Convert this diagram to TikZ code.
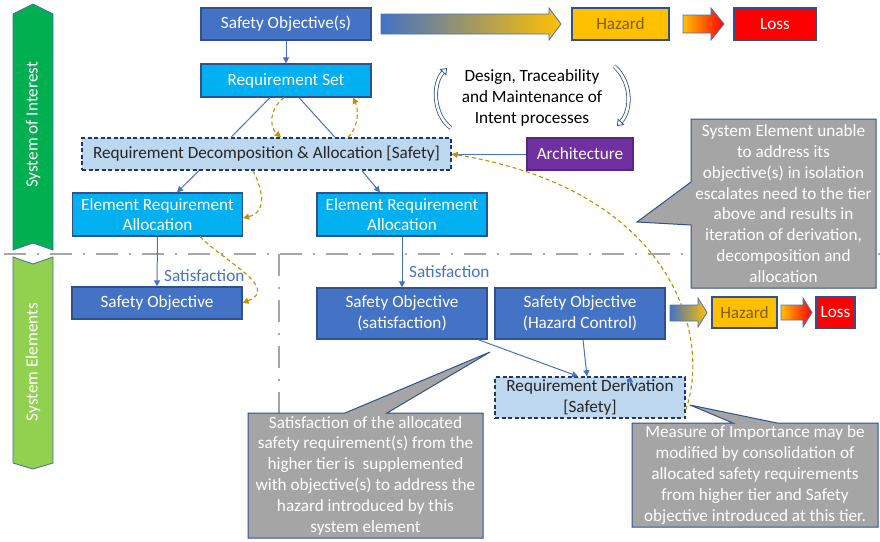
\documentclass[tikz,border=0pt]{standalone}
\usepackage{fontspec}
\setmainfont{Carlito}
\usetikzlibrary{calc, positioning, arrows.meta}

\definecolor{sblue}{HTML}{4472C4}
\definecolor{dblue}{HTML}{2F528F}
\definecolor{navy}{HTML}{203864}
\definecolor{cyanbox}{HTML}{00B0F0}
\definecolor{paleblue}{HTML}{BDD7EE}
\definecolor{hgold}{HTML}{FFC000}
\definecolor{hbrown}{HTML}{7F6000}
\definecolor{lossred}{HTML}{FF0000}
\definecolor{archpurple}{HTML}{7030A0}
\definecolor{dgold}{HTML}{BF9000}
\definecolor{notegray}{HTML}{A5A5A5}
\definecolor{tiergray}{HTML}{A6A6A6}
\definecolor{darkgreen}{HTML}{00B050}
\definecolor{lightgreen}{HTML}{92D050}
\definecolor{baredge}{HTML}{41719C}

\newcommand{\diagfont}{\fontsize{17.2}{20.8}\selectfont}

\tikzset{
  box/.style={draw=dblue, line width=1.2pt, minimum width=170pt, minimum height=32pt,
    inner sep=0pt, align=center, text=white, font=\diagfont},
  objbox/.style={box, fill=sblue},
  reqbox/.style={box, fill=cyanbox},
  dashbox/.style={box, fill=paleblue, draw=navy, dash pattern=on 4pt off 2.5pt,
    line width=1.4pt, text=black!85},
  conn/.style={draw=sblue, line width=1pt, -{Triangle[length=6pt,width=6pt]}},
  iterloop/.style={draw=dgold, line width=1.1pt, dash pattern=on 4pt off 3pt,
    -{Triangle[length=6pt,width=6pt]}},
  notebg/.style={fill=notegray, draw=dblue, line width=1pt},
  notetext/.style={text=white, align=center, font=\diagfont, inner sep=0pt},
  lbl/.style={text=sblue, font=\diagfont, inner sep=0pt},
  tier/.style={draw=tiergray, line width=2.5pt, dash pattern=on 22pt off 11pt on 2pt off 11pt},
  fatarrow/.style={draw=sblue, line width=0.8pt},
  bracearc/.style={draw=dblue, line width=0.8pt, double=white, double distance=2.6pt,
    -{Triangle[length=6pt,width=9pt,fill=white]}},
}

\begin{document}
\begin{tikzpicture}[x=1pt, y=-1pt]
  \useasboundingbox (0,0) rectangle (880,541);

  % tier bars
  \filldraw[fill=darkgreen, draw=baredge, line width=0.8pt]
    (13,14) -- (33,4) -- (53,14) -- (53,250) -- (33,243) -- (13,250) -- cycle;
  \filldraw[fill=lightgreen, draw=baredge, line width=0.8pt]
    (13,257) -- (33,264) -- (53,257) -- (53,463) -- (33,469) -- (13,463) -- cycle;
  \node[rotate=90, text=white, font=\diagfont] (soi) at (33,125) {System of Interest};
  \node[rotate=90, text=white, font=\diagfont] (selem) at (33,362) {System Elements};

  % tier boundary
  \draw[tier] (4,254) -- (880,254);
  \draw[tier] (279,254) -- (279,413);

  % callouts
  \filldraw[notebg] (691,119) -- (876,119) -- (876,288) -- (691,288) -- (691,225)
    -- (637,222) -- (691,182) -- cycle;
  \node[notetext] (escalate) at (783.5,203.5) {System Element unable\\to address its\\objective(s) in isolation\\escalates need to the tier\\above and results in\\iteration of derivation,\\decomposition and\\allocation};
  \filldraw[notebg] (248,413) -- (345,413) -- (490,352) -- (387,413) -- (483,413)
    -- (483,538) -- (248,538) -- cycle;
  \node[notetext] (supplement) at (365.5,475.5) {Satisfaction of the allocated\\safety requirement(s) from the\\higher tier is\ \ supplemented\\with objective(s) to address the\\hazard introduced by this\\system element};
  \filldraw[notebg] (632,423) -- (733,423) -- (690,405) -- (777,423) -- (878,423)
    -- (878,527) -- (632,527) -- cycle;
  \node[notetext] (importance) at (755,475) {Measure of Importance may be\\modified by consolidation of\\allocated safety requirements\\from higher tier and Safety\\objective introduced at this tier.};

  % upper tier
  \node[objbox] (sos) at (286,24) {Safety Objective(s)};
  \node[box, fill=hgold, text=hbrown, minimum width=97pt] (haz1) at (620.5,24) {Hazard};
  \node[box, fill=lossred, minimum width=82pt] (loss1) at (775,24) {Loss};
  \node[reqbox, minimum height=33pt] (reqset) at (286,80.5) {Requirement Set};
  \node[font=\diagfont, align=center] (intent) at (532,98) {Design, Traceability\\and Maintenance of\\Intent processes};
  \node[dashbox, minimum width=369pt] (decomp) at (266.5,154) {Requirement Decomposition \& Allocation [Safety]};
  \node[box, fill=archpurple, draw=archpurple!80!black, minimum width=106pt] (arch) at (580,154) {Architecture};
  \node[reqbox, minimum height=43pt] (elem1) at (157.5,214.5) {Element Requirement\\Allocation};
  \node[reqbox, minimum height=43pt] (elem2) at (402,214.5) {Element Requirement\\Allocation};

  % lower tier
  \node[objbox] (so1) at (157,303) {Safety Objective};
  \node[objbox, minimum height=51pt] (sosat) at (402,313.5) {Safety Objective\\(satisfaction)};
  \node[objbox, minimum height=51pt] (sohc) at (580,313.5) {Safety Objective\\(Hazard Control)};
  \node[box, fill=hgold, text=hbrown, minimum width=65pt, minimum height=31pt] (haz2) at (744.5,312.5) {Hazard};
  \node[box, fill=lossred, minimum width=39pt, minimum height=31pt] (loss2) at (835.5,312.5) {Loss};
  \node[dashbox, minimum width=190pt, minimum height=41pt] (deriv) at (590,397.5) {Requirement Derivation\\{}[Safety]};

  % shaded arrows
  \path[fatarrow, left color=sblue, right color=hgold] (381,14) -- (549,14) -- (549,8)
    -- (561,24) -- (549,40) -- (549,34) -- (381,34) -- cycle;
  \path[fatarrow, left color=hgold, right color=lossred] (683,15) -- (711,15) -- (711,8)
    -- (724,24) -- (711,40) -- (711,33) -- (683,33) -- cycle;
  \path[fatarrow, left color=sblue, right color=hgold] (670,305) -- (698,305) -- (698,298)
    -- (707,312.5) -- (698,327) -- (698,321) -- (670,321) -- cycle;
  \path[fatarrow, left color=hgold, right color=lossred] (781,305) -- (803,305) -- (803,298)
    -- (812,312.5) -- (803,327) -- (803,320) -- (781,320) -- cycle;

  % process brackets
  \draw[bracearc] (451,128) .. controls (433,115) and (432,84) .. (447,68);
  \draw[bracearc] (614,66) .. controls (632,82) and (632,110) .. (617,126);

  % connectors
  \draw[conn] (sos) -- (reqset);
  \draw[sblue, line width=1pt] ([xshift=-16pt]reqset.south) -- ([xshift=-35.5pt]decomp.north);
  \draw[sblue, line width=1pt] ([xshift=13pt]reqset.south) -- ([xshift=68.5pt]decomp.north);
  \draw[conn] ([xshift=-67.5pt]decomp.south) -- ([xshift=19.5pt]elem1.north);
  \draw[conn] ([xshift=95.5pt]decomp.south) -- ([xshift=-22pt]elem2.north);
  \draw[sblue, line width=1pt] (arch.west) -- (decomp.east);
  \draw[conn] (elem1.south) -- (so1.north);
  \node[lbl, anchor=west] (sat1) at (164,276) {Satisfaction};
  \draw[conn] (elem2.south) -- (sosat.north);
  \node[lbl, anchor=west] (sat2) at (409,272) {Satisfaction};
  \draw[conn] ([xshift=76pt]sosat.south) -- ([xshift=-12pt]deriv.north);
  \draw[conn] ([xshift=3pt]sohc.south) -- ([xshift=-3pt]deriv.north);
  \coordinate (stub) at (630,386);
  \draw[conn] (stub) -- ([xshift=40pt]deriv.north);

  % iteration loops
  \draw[iterloop] ([xshift=-2pt]reqset.south) .. controls (268,110) and (270,128) .. ([xshift=14.5pt]decomp.north);
  \draw[iterloop] ([xshift=81.5pt]decomp.north) .. controls (360,125) and (358,108) .. ([xshift=67pt]reqset.south);
  \draw[iterloop] ([xshift=-13.5pt]decomp.south) .. controls (262,188) and (268,212) .. ([yshift=-3.5pt]elem1.east);
  \draw[iterloop] ([xshift=42.5pt]elem1.south) .. controls (225,262) and (280,288) .. (so1.east);
  \draw[iterloop] ([yshift=-12.5pt]deriv.east) .. controls (712,335) and (672,190) .. (decomp.east);
\end{tikzpicture}
\end{document}
